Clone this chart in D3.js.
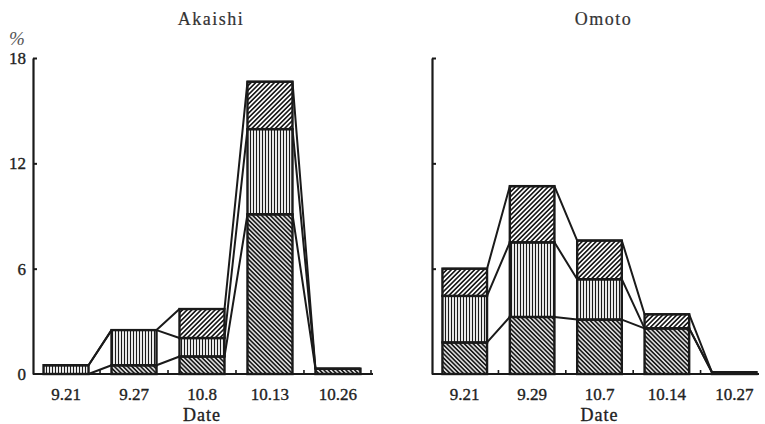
<!DOCTYPE html>
<html><head><meta charset="utf-8">
<script src="https://cdn.jsdelivr.net/npm/d3@7"></script>
<style>body{margin:0;background:#fff}svg{display:block}</style>
</head><body>
<svg id="c" width="765" height="424"></svg>
<script>
// ---- data (percent) ----
const akaishiDates  = ["9.21", "9.27", "10.8", "10.13", "10.26"];
const akaishiLower  = [0,    0.5, 1.0,  9.1,  0.3];
const akaishiMiddle = [0.5,  2.0, 1.05, 4.85, 0];
const akaishiUpper  = [0,    0,   1.65, 2.7,  0];

const omotoDates  = ["9.21", "9.29", "10.7", "10.14", "10.27"];
const omotoLower  = [1.8,  3.25, 3.1, 2.6, 0.1];
const omotoMiddle = [2.65, 4.25, 2.3, 0,   0];
const omotoUpper  = [1.55, 3.2,  2.2, 0.8, 0];

const yTicks = [0, 6, 12, 18];
const yMax = 18;

const svg = d3.select("#c");
const ink = "#1a1a1a";
const serif = "Liberation Serif, serif";

// ---- hatch patterns ----
const defs = svg.append("defs");
function hatch(id, size, angle, sw) {
  const p = defs.append("pattern").attr("id", id)
    .attr("patternUnits", "userSpaceOnUse")
    .attr("width", size).attr("height", size)
    .attr("patternTransform", `rotate(${angle})`);
  p.append("rect").attr("width", size).attr("height", size).attr("fill", "#fff");
  p.append("line").attr("x1", size / 2).attr("x2", size / 2)
    .attr("y1", 0).attr("y2", size)
    .attr("stroke", ink).attr("stroke-width", sw);
}
hatch("pLower", 3.1, -45, 1.8);
hatch("pMiddle", 3.0, 0, 1.2);
hatch("pUpper", 3.3, 45, 1.7);

const y = d3.scaleLinear().domain([0, yMax]).range([374, 58]);

function styleText(sel, size) {
  sel.attr("font-family", serif).attr("font-size", size)
    .attr("fill", "#222").attr("stroke", "#222").attr("stroke-width", 0.35);
}

function panel(cfg) {
  const { dates, lower, middle, upper, axisX, bandRange, baseEnd, title, showYLabels, endTick } = cfg;
  const g = svg.append("g");
  const x = d3.scaleBand().domain(dates).range(bandRange)
    .paddingInner(0.338).paddingOuter(0.155);
  const bw = x.bandwidth();
  const step = x.step();

  // title
  g.append("text").attr("x", (axisX + baseEnd) / 2 + 8).attr("y", 25)
    .attr("text-anchor", "middle").attr("letter-spacing", 1.5).text(title)
    .call(styleText, 18).attr("fill", "#333").attr("stroke", "#333").attr("stroke-width", 0.2);

  // stacked bars
  const rows = dates.map((d, i) => ({
    d,
    segs: [
      { key: "pLower", y0: 0, y1: lower[i] },
      { key: "pMiddle", y0: lower[i], y1: lower[i] + middle[i] },
      { key: "pUpper", y0: lower[i] + middle[i], y1: lower[i] + middle[i] + upper[i] }
    ].filter(s => s.y1 > s.y0)
  }));
  const bars = g.selectAll("g.bar").data(rows).join("g").attr("class", "bar");
  bars.selectAll("rect").data(r => r.segs.map(s => ({ ...s, d: r.d }))).join("rect")
    .attr("x", s => x(s.d)).attr("width", bw)
    .attr("y", s => y(s.y1)).attr("height", s => y(s.y0) - y(s.y1))
    .attr("fill", s => `url(#${s.key})`)
    .attr("stroke", ink).attr("stroke-width", 2.4);

  // connecting lines for each cumulative level
  const levels = [
    lower,
    lower.map((v, i) => v + middle[i]),
    lower.map((v, i) => v + middle[i] + upper[i])
  ];
  const line = d3.line().x(p => p[0]).y(p => y(p[1]));
  levels.forEach(lv => {
    const pts = [];
    dates.forEach((d, i) => { pts.push([x(d), lv[i]]); pts.push([x(d) + bw, lv[i]]); });
    g.append("path").attr("d", line(pts)).attr("fill", "none")
      .attr("stroke", ink).attr("stroke-width", 2).attr("stroke-linejoin", "round");
  });

  // y axis
  const yAxis = d3.axisLeft(y).tickValues(yTicks).tickSizeInner(-4).tickSizeOuter(0).tickPadding(7);
  if (!showYLabels) yAxis.tickFormat(() => "");
  const ya = g.append("g").attr("transform", `translate(${axisX},0)`).call(yAxis);
  ya.select(".domain").attr("stroke", ink).attr("stroke-width", 2.2);
  ya.selectAll(".tick line").attr("stroke", ink).attr("stroke-width", 2);
  ya.selectAll(".tick text").call(styleText, 17);
  ya.selectAll(".tick").filter(d => d === 0).select("line").remove();

  // baseline + boundary ticks
  g.append("line").attr("x1", axisX).attr("x2", baseEnd).attr("y1", y(0)).attr("y2", y(0))
    .attr("stroke", ink).attr("stroke-width", 2.2);
  const bt = dates.slice(0, -1).map(d => x(d) + bw + (step - bw) / 2);
  if (endTick) bt.push(baseEnd - 2);
  g.selectAll("line.bt").data(bt).join("line").attr("class", "bt")
    .attr("x1", d => d).attr("x2", d => d).attr("y1", y(0)).attr("y2", y(0) - 4)
    .attr("stroke", ink).attr("stroke-width", 1.6);

  // category labels
  const xa = g.append("g").attr("transform", `translate(0,${y(0)})`)
    .call(d3.axisBottom(x).tickSize(0).tickPadding(14));
  xa.select(".domain").remove();
  xa.selectAll(".tick text").call(styleText, 17);

  // axis title
  g.append("text").attr("x", (x(dates[2]) + bw / 2)).attr("y", 421)
    .attr("text-anchor", "middle").attr("letter-spacing", 1).text("Date")
    .call(styleText, 18);
  return g;
}

panel({ dates: akaishiDates, lower: akaishiLower, middle: akaishiMiddle, upper: akaishiUpper,
  axisX: 33, bandRange: [33, 371], baseEnd: 373, title: "Akaishi", showYLabels: true, endTick: true });
panel({ dates: omotoDates, lower: omotoLower, middle: omotoMiddle, upper: omotoUpper,
  axisX: 432, bandRange: [432, 767], baseEnd: 759, title: "Omoto", showYLabels: false, endTick: false });

// percent unit label
svg.append("text").attr("x", 17).attr("y", 45).attr("text-anchor", "middle")
  .attr("font-style", "italic").text("%")
  .call(styleText, 19).attr("fill", "#555").attr("stroke", "none");
</script>
</body></html>
